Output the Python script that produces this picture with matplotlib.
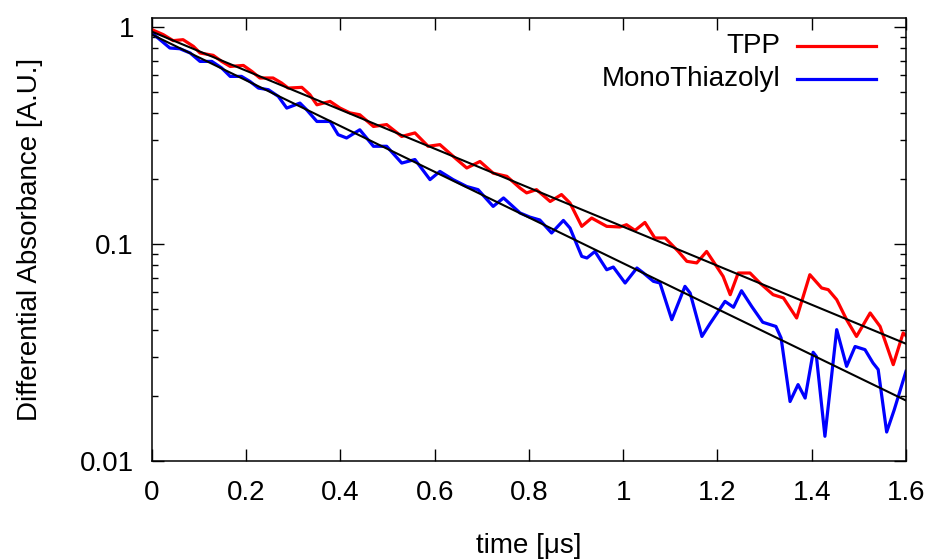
import matplotlib.pyplot as plt
from matplotlib.ticker import FixedLocator, LogLocator, FuncFormatter, NullFormatter

plt.rcParams['font.family'] = ['Liberation Sans', 'DejaVu Sans']

# TPP transient (time in us, differential absorbance)
tpp_t = [0.000, 0.024, 0.045, 0.066, 0.088, 0.102, 0.130, 0.148, 0.166, 0.194,
         0.212, 0.229, 0.257, 0.275, 0.289, 0.318, 0.335, 0.350, 0.378, 0.399,
         0.420, 0.441, 0.470, 0.498, 0.530, 0.558, 0.586, 0.611, 0.647, 0.668,
         0.696, 0.724, 0.753, 0.781, 0.795, 0.816, 0.845, 0.869, 0.887, 0.912,
         0.933, 0.965, 0.993, 1.007, 1.025, 1.046, 1.067, 1.089, 1.117, 1.135,
         1.156, 1.177, 1.198, 1.212, 1.227, 1.244, 1.269, 1.290, 1.318, 1.340,
         1.368, 1.396, 1.421, 1.435, 1.453, 1.474, 1.495, 1.524, 1.545, 1.573,
         1.594, 1.600]
tpp_a = [0.972, 0.922, 0.865, 0.874, 0.814, 0.759, 0.740, 0.694, 0.658, 0.665,
         0.624, 0.582, 0.582, 0.552, 0.523, 0.527, 0.488, 0.438, 0.454, 0.423,
         0.402, 0.394, 0.348, 0.355, 0.313, 0.325, 0.282, 0.287, 0.245, 0.224,
         0.240, 0.212, 0.205, 0.181, 0.172, 0.178, 0.157, 0.169, 0.1545, 0.1206,
         0.1317, 0.1206, 0.1198, 0.1227, 0.1155, 0.1257, 0.1066, 0.1066, 0.0924, 0.0832,
         0.0818, 0.0924, 0.0789, 0.0709, 0.0584, 0.0735, 0.0735, 0.0661, 0.0584, 0.0564,
         0.0456, 0.0722, 0.0627, 0.0616, 0.0554, 0.0448, 0.0375, 0.0481, 0.0417, 0.0278,
         0.0389, 0.0378]

# MonoThiazolyl transient
mono_t = [0.000, 0.017, 0.038, 0.059, 0.081, 0.102, 0.127, 0.148, 0.166, 0.190,
          0.208, 0.226, 0.247, 0.268, 0.286, 0.314, 0.328, 0.350, 0.378, 0.395,
          0.413, 0.441, 0.470, 0.498, 0.530, 0.558, 0.590, 0.611, 0.639, 0.668,
          0.692, 0.724, 0.746, 0.781, 0.802, 0.823, 0.848, 0.873, 0.887, 0.912,
          0.923, 0.940, 0.965, 0.979, 1.004, 1.029, 1.043, 1.064, 1.078, 1.103,
          1.131, 1.142, 1.167, 1.184, 1.216, 1.234, 1.251, 1.273, 1.296, 1.324,
          1.335, 1.354, 1.371, 1.386, 1.403, 1.410, 1.428, 1.453, 1.474, 1.492,
          1.513, 1.530, 1.541, 1.559, 1.575, 1.600]
mono_a = [0.938, 0.874, 0.800, 0.794, 0.759, 0.694, 0.694, 0.647, 0.592, 0.592,
          0.561, 0.523, 0.514, 0.479, 0.423, 0.446, 0.416, 0.367, 0.367, 0.319,
          0.308, 0.336, 0.282, 0.282, 0.236, 0.245, 0.198, 0.216, 0.198, 0.184,
          0.178, 0.149, 0.163, 0.139, 0.133, 0.129, 0.1124, 0.1284, 0.1185, 0.0877,
          0.0862, 0.0924, 0.0761, 0.0783, 0.0661, 0.0775, 0.0735, 0.0673, 0.0661, 0.0448,
          0.0638, 0.0594, 0.0375, 0.0429, 0.0544, 0.0511, 0.0609, 0.0514, 0.0436, 0.0417,
          0.0369, 0.0188, 0.0225, 0.0195, 0.0317, 0.0303, 0.0130, 0.0403, 0.0273, 0.0337,
          0.0326, 0.0283, 0.0264, 0.0136, 0.0172, 0.0259]

# single exponential fits (straight on log axis, endpoints)
fit_t = [0.0, 1.6]
tpp_fit = [0.951, 0.0347]
mono_fit = [0.922, 0.0190]

fig = plt.figure(figsize=(9.34, 5.59), dpi=100)
ax = fig.add_axes([0.1627, 0.1753, 0.8073, 0.7925])

ax.plot(tpp_t, tpp_a, color='#ff0000', lw=2.3, solid_joinstyle='round')
ax.plot(mono_t, mono_a, color='#0000ff', lw=2.3, solid_joinstyle='round')
ax.plot(fit_t, tpp_fit, color='black', lw=1.5)
ax.plot(fit_t, mono_fit, color='black', lw=1.5)

ax.set_yscale('log')
ax.set_xlim(0, 1.6)
ax.set_ylim(0.01, 1.1)

ax.xaxis.set_major_locator(FixedLocator([0, 0.2, 0.4, 0.6, 0.8, 1.0, 1.2, 1.4, 1.6]))
ax.xaxis.set_major_formatter(FuncFormatter(lambda v, p: '%g' % v))
ax.yaxis.set_major_locator(FixedLocator([0.01, 0.1, 1]))
ax.yaxis.set_major_formatter(FuncFormatter(lambda v, p: '%g' % v))
ax.yaxis.set_minor_locator(LogLocator(base=10, subs=range(2, 10)))
ax.yaxis.set_minor_formatter(NullFormatter())

ax.tick_params(which='both', direction='in', top=True, right=True, width=1, colors='black')
ax.tick_params(which='major', length=8.5, labelsize=20)
ax.tick_params(which='minor', length=4.3)
ax.tick_params(axis='x', pad=14)
ax.tick_params(axis='y', pad=13)
for s in ax.spines.values():
    s.set_linewidth(1.1)

ax.set_xlabel('time [μs]', fontsize=20)
ax.set_ylabel('Differential Absorbance [A.U.]', fontsize=20)
ax.xaxis.set_label_coords(0.5, -0.162)
ax.yaxis.set_label_coords(-0.144, 0.5)

# gnuplot-style key, text right-aligned left of the sample line
ax.text(0.834, 0.9357, 'TPP', transform=ax.transAxes, ha='right', va='center', fontsize=20)
ax.text(0.834, 0.863, 'MonoThiazolyl', transform=ax.transAxes, ha='right', va='center', fontsize=20)
ax.plot([0.855, 0.960], [0.9357, 0.9357], transform=ax.transAxes, color='#ff0000', lw=2.3)
ax.plot([0.855, 0.960], [0.863, 0.863], transform=ax.transAxes, color='#0000ff', lw=2.3)

fig.savefig('out.png', dpi=100)
